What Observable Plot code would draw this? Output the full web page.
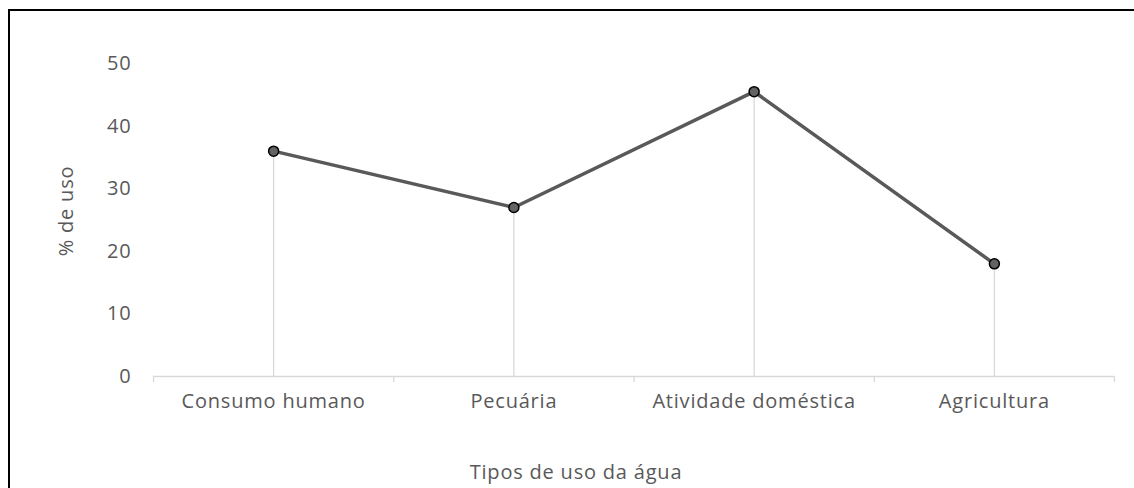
<!DOCTYPE html>
<html>
<head>
<meta charset="utf-8">
<script src="https://cdn.jsdelivr.net/npm/d3@7"></script>
<script src="https://cdn.jsdelivr.net/npm/@observablehq/plot@0.6"></script>
<style>
  html, body { margin: 0; padding: 0; background: #fff; overflow: hidden; }
  #wrap { position: relative; width: 1134px; height: 488px; }
  #border { position: absolute; left: 8px; top: 9px; width: 1200px; height: 600px;
            border-top: 2px solid #000; border-left: 2px solid #000; pointer-events: none; }
  svg { display: block; }
  svg text { letter-spacing: 0.8px; }
</style>
</head>
<body>
<div id="wrap"><div id="border"></div></div>
<script>
const categories = ["Consumo humano", "Pecuária", "Atividade doméstica", "Agricultura"];
const values = [36, 27, 45.5, 18];
const yTicks = [0, 10, 20, 30, 40, 50];
const yLabel = "% de uso";
const xLabel = "Tipos de uso da água";

const data = categories.map((c, i) => ({cat: c, pos: i + 0.5, value: values[i]}));
const boundaries = d3.range(categories.length + 1);
const centers = data.map(d => d.pos);

const textColor = "#595959";
const font = "'Open Sans', sans-serif";
const fs = 20;

const chart = Plot.plot({
  width: 1134,
  height: 488,
  marginLeft: 153,
  marginRight: 20,
  marginTop: 63,
  marginBottom: 112,
  style: {fontFamily: font, fontSize: fs + "px", color: textColor, background: "transparent"},
  x: {type: "linear", domain: [0, categories.length]},
  y: {domain: [0, 50]},
  marks: [
    Plot.ruleY([0], {stroke: "#d9d9d9", strokeWidth: 1.3}),
    Plot.axisX({ticks: boundaries, tickSize: 6, tickFormat: () => "", stroke: "#d9d9d9", strokeWidth: 1.3, label: null}),
    Plot.axisX({ticks: centers, tickSize: 0, tickPadding: 17, tickFormat: (d, i) => categories[i], fill: textColor, fontSize: fs, label: null}),
    Plot.axisY({ticks: yTicks, tickSize: 0, tickPadding: 22, fill: textColor, fontSize: fs, label: null}),
    Plot.ruleX(data, {x: "pos", y1: 0, y2: "value", stroke: "#d9d9d9", strokeWidth: 1.3}),
    Plot.line(data, {x: "pos", y: "value", stroke: "#595959", strokeWidth: 3.5}),
    Plot.dot(data, {x: "pos", y: "value", r: 5, fill: "#636363", stroke: "#000", strokeWidth: 1.5}),
    Plot.text([yLabel], {frameAnchor: "left", textAnchor: "middle", dx: -87, dy: -9, rotate: -90, fill: textColor, fontSize: fs}),
    Plot.text([xLabel], {frameAnchor: "bottom", dx: -58, dy: 102, fill: textColor, fontSize: fs})
  ]
});
document.getElementById("wrap").insertBefore(chart, document.getElementById("border"));
</script>
</body>
</html>
